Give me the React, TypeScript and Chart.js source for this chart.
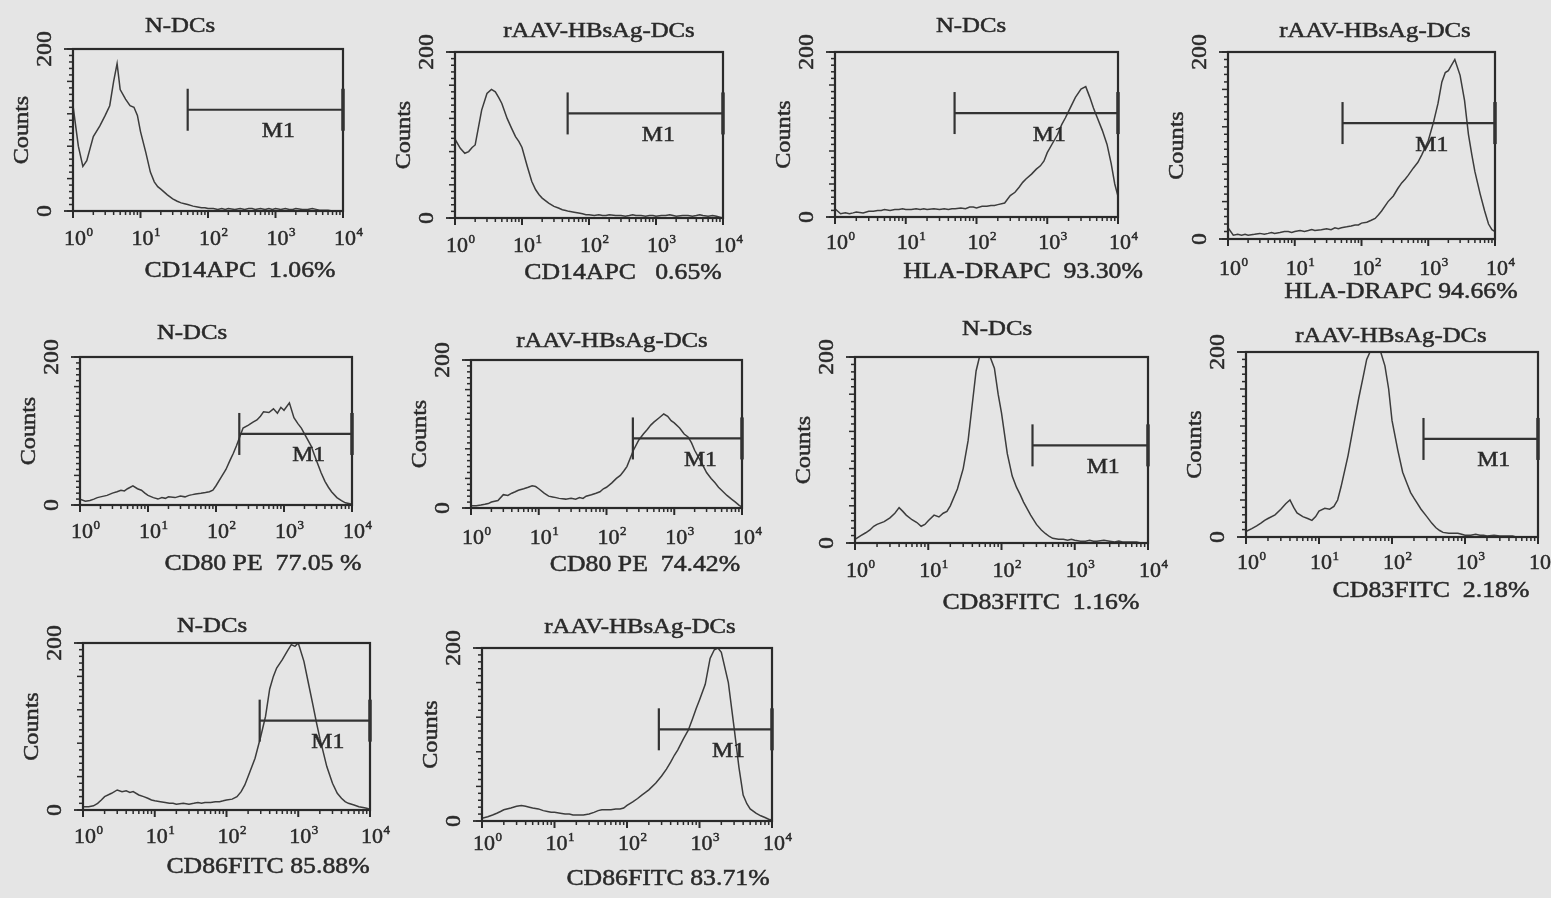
import React, { useEffect, useRef } from 'react';
import { Chart, registerables } from 'chart.js';

Chart.register(...registerables);

const W = 1551;
const H = 898;
const BG = '#e5e5e5';
const INK = '#2a2a2a';
const LINE = '#3c3c3c';
const FONT = '"Liberation Serif", "Times New Roman", serif';

// ---------- data ----------
const channels = [
  1, 1.2, 1.4, 1.6, 1.8, 2, 2.5, 3, 3.5, 4, 4.5, 5, 6, 7, 8, 9,
  10, 12, 14, 16, 18, 20, 25, 30, 35, 40, 45, 50, 60, 70, 80, 90,
  100, 120, 140, 160, 180, 200, 250, 300, 350, 400, 450, 500, 600, 700, 800, 900,
  1000, 1200, 1400, 1600, 1800, 2000, 2500, 3000, 3500, 4000, 4500, 5000, 6000, 7000, 8000, 9000,
  10000,
];

const cd14N = [
  130, 80, 55, 62, 78, 92, 105, 118, 130, 160, 182, 150, 138, 130, 128, 118,
  98, 72, 48, 36, 30, 27, 20, 15, 12, 10, 9, 8, 6, 5, 4, 4,
  3, 3, 2, 3, 2, 3, 2, 3, 2, 3, 3, 2, 3, 2, 3, 2,
  3, 2, 3, 2, 2, 3, 2, 2, 3, 2, 1, 1, 1, 0, 0, 0,
  0,
];
const cd14R = [
  95, 84, 78, 80, 85, 88, 130, 150, 155, 152, 145, 138, 120, 108, 98, 92,
  85, 62, 44, 34, 28, 24, 18, 14, 12, 10, 9, 8, 7, 6, 5, 4,
  4, 3, 4, 3, 3, 4, 3, 3, 2, 3, 4, 3, 3, 2, 3, 3,
  2, 3, 3, 4, 3, 2, 3, 3, 2, 3, 4, 3, 2, 3, 2, 1,
  0,
];
const hlaN = [
  10, 4, 5, 4, 5, 6, 5, 7, 7, 8, 8, 9, 8, 9, 9, 10,
  9, 9, 10, 9, 10, 9, 10, 9, 10, 9, 10, 10, 11, 10, 12, 12,
  11, 13, 13, 14, 14, 15, 17, 26, 30, 36, 42, 46, 52, 58, 62, 68,
  78, 90, 100, 112, 120, 128, 145, 155, 158, 145, 132, 122, 105, 88, 65, 40,
  25,
];
const hlaR = [
  12, 4, 5, 4, 5, 4, 5, 6, 5, 6, 7, 6, 7, 8, 8, 7,
  8, 9, 8, 9, 10, 9, 10, 11, 10, 12, 11, 12, 13, 14, 15, 15,
  17, 18, 20, 22, 26, 30, 40, 46, 54, 60, 64, 68, 76, 82, 90, 98,
  105, 125, 145, 168, 178, 180, 192, 175, 148, 112, 90, 72, 48, 30, 16, 10,
  8,
];
const cd80N = [
  8, 5, 6, 8, 10, 11, 13, 16, 18, 20, 19, 22, 26, 22, 20, 16,
  13, 10, 8, 10, 9, 11, 10, 12, 11, 13, 14, 15, 16, 17, 18, 20,
  26, 38, 48, 60, 70, 80, 104, 108, 112, 115, 120, 126, 125, 130, 124, 132,
  128, 138, 118, 110, 104, 96, 80, 60, 44, 32, 24, 18, 10, 6, 3, 2,
  1,
];
const cd80R = [
  3, 3, 4, 5, 6, 8, 10, 18, 17, 20, 22, 24, 26, 28, 30, 29,
  26, 20, 16, 15, 14, 13, 12, 13, 12, 14, 13, 16, 18, 20, 22, 26,
  28, 34, 40, 44, 50, 56, 78, 92, 100, 106, 112, 116, 122, 127, 124, 118,
  115, 108, 100, 96, 88, 78, 62, 48, 40, 34, 28, 24, 17, 12, 8, 4,
  1,
];
const cd83N = [
  4, 8, 11, 14, 18, 20, 23, 27, 32, 38, 34, 30, 25, 22, 18, 20,
  24, 30, 28, 32, 34, 40, 58, 80, 110, 150, 185, 200, 200, 200, 188, 160,
  140, 96, 72, 60, 52, 44, 30, 20, 14, 10, 7, 5, 4, 4, 3, 4,
  3, 2, 2, 3, 2, 2, 3, 2, 1, 2, 1, 1, 1, 1, 0, 0,
  0,
];
const cd83R = [
  6, 9, 12, 15, 18, 20, 24, 30, 36, 40, 32, 26, 22, 20, 18, 22,
  28, 31, 30, 33, 40, 54, 88, 122, 150, 172, 192, 200, 200, 200, 185, 160,
  126, 94, 70, 58, 48, 42, 30, 22, 15, 10, 7, 5, 4, 4, 4, 3,
  2, 2, 3, 2, 2, 1, 2, 1, 1, 1, 1, 0, 0, 0, 0, 0,
  0,
];
const cd86N = [
  4, 4, 5, 8, 12, 16, 20, 24, 22, 23, 21, 22, 18, 16, 14, 12,
  11, 10, 9, 8, 8, 7, 8, 7, 8, 9, 8, 9, 9, 10, 10, 11,
  12, 13, 16, 22, 30, 40, 62, 88, 112, 145, 160, 170, 180, 190, 198, 196,
  200, 178, 150, 126, 104, 86, 52, 32, 20, 14, 10, 8, 6, 4, 3, 2,
  1,
];
const cd86R = [
  3, 5, 7, 9, 11, 13, 15, 17, 18, 17, 16, 15, 14, 12, 11, 10,
  10, 9, 8, 8, 7, 7, 7, 8, 10, 12, 13, 13, 13, 14, 14, 15,
  18, 22, 26, 30, 33, 36, 44, 52, 60, 68, 76, 82, 95, 105, 118, 130,
  140, 158, 188, 198, 200, 195, 160, 108, 62, 30, 20, 14, 9, 6, 4, 2,
  1,
];

const seriesList = [cd14N, cd14R, hlaN, hlaR, cd80N, cd80R, cd83N, cd83R, cd86N, cd86R];

const titles = [
  'N-DCs', 'rAAV-HBsAg-DCs', 'N-DCs', 'rAAV-HBsAg-DCs', 'N-DCs',
  'rAAV-HBsAg-DCs', 'N-DCs', 'rAAV-HBsAg-DCs', 'N-DCs', 'rAAV-HBsAg-DCs',
];
const axisLabels = [
  'CD14APC  1.06%', 'CD14APC   0.65%', 'HLA-DRAPC  93.30%', 'HLA-DRAPC 94.66%', 'CD80 PE  77.05 %',
  'CD80 PE  74.42%', 'CD83FITC  1.16%', 'CD83FITC  2.18%', 'CD86FITC 85.88%', 'CD86FITC 83.71%',
];
const gateStart = [50, 48, 49, 52, 220, 245, 265, 270, 290, 275];
const gateLevel = [125, 126, 126, 124, 96, 94, 105, 106, 107, 106];
const gateEnd = 10000;
const gateName = 'M1';

const xMin = 1;
const xMax = 10000;
const yMin = 0;
const yMax = 200;
const decadeValues = [1, 10, 100, 1000, 10000];
const decadeBase = '10';
const decadeExponents = ['0', '1', '2', '3', '4'];
const yTickValues = [0, 200];
const yTickLabels = ['0', '200'];
const yAxisTitle = 'Counts';

// ---------- layout ----------
const PAD = { left: 75, right: 40, top: 50, bottom: 80 };
type Layout = { box: number[]; title: number[]; label: number[]; tickDy: number };
const layouts: Layout[] = [
  { box: [73, 49, 343, 211], title: [180, 26], label: [240, 271], tickDy: 28 },
  { box: [455, 52, 723, 218], title: [599, 31], label: [623, 273], tickDy: 28 },
  { box: [835, 52, 1118, 217], title: [971, 26], label: [1023, 272], tickDy: 26 },
  { box: [1228, 52, 1495, 239], title: [1375, 31], label: [1401, 292], tickDy: 30 },
  { box: [80, 357, 352, 505], title: [192, 333], label: [263, 564], tickDy: 27 },
  { box: [471, 360, 742, 508], title: [612, 341], label: [645, 565], tickDy: 30 },
  { box: [855, 357, 1148, 543], title: [997, 329], label: [1041, 603], tickDy: 28 },
  { box: [1246, 352, 1538, 537], title: [1391, 336], label: [1431, 591], tickDy: 26 },
  { box: [83, 643, 370, 810], title: [212, 626], label: [268, 867], tickDy: 27 },
  { box: [482, 648, 772, 821], title: [640, 627], label: [668, 879], tickDy: 23 },
];

function text(
  ctx: CanvasRenderingContext2D, s: string, x: number, y: number,
  size: number, sx: number, rot = 0, align: CanvasTextAlign = 'center',
) {
  ctx.save();
  ctx.translate(x, y);
  if (rot) ctx.rotate(rot);
  ctx.scale(sx, 1);
  ctx.font = `${size}px ${FONT}`;
  ctx.fillStyle = INK;
  ctx.strokeStyle = INK;
  ctx.lineWidth = 0.5;
  ctx.textAlign = align;
  ctx.textBaseline = 'middle';
  ctx.fillText(s, 0, 0);
  ctx.strokeText(s, 0, 0);
  ctx.restore();
}

function seg(ctx: CanvasRenderingContext2D, x1: number, y1: number, x2: number, y2: number) {
  ctx.beginPath();
  ctx.moveTo(x1, y1);
  ctx.lineTo(x2, y2);
  ctx.stroke();
}

function Panel({ i }: { i: number }) {
  const ref = useRef<HTMLCanvasElement>(null);
  const L = layouts[i];
  const [l, t, r, b] = L.box;
  const ox = l - PAD.left;
  const oy = t - PAD.top;
  const cw = r - l + PAD.left + PAD.right;
  const ch = b - t + PAD.top + PAD.bottom;

  useEffect(() => {
    const values = seriesList[i];
    const decor = {
      id: 'facsDecor',
      afterDraw(chart: any) {
        const ctx: CanvasRenderingContext2D = chart.ctx;
        const xs = chart.scales.x;
        const ys = chart.scales.y;
        const ca = chart.chartArea;
        ctx.save();
        ctx.strokeStyle = INK;
        ctx.lineCap = 'butt';
        // frame
        ctx.lineWidth = 2.2;
        ctx.strokeRect(ca.left, ca.top, ca.right - ca.left, ca.bottom - ca.top);
        // y ticks
        ctx.lineWidth = 1.5;
        for (let v = yMin; v <= yMax; v += 8) {
          const y = ys.getPixelForValue(v);
          const len = v % 40 === 0 ? 6 : 4;
          seg(ctx, ca.left - len, y, ca.left, y);
        }
        ctx.lineWidth = 1.8;
        yTickValues.forEach((v) => {
          const y = ys.getPixelForValue(v);
          seg(ctx, ca.left - 9, y, ca.left, y);
        });
        // x ticks
        ctx.lineWidth = 1.5;
        for (let d = 0; d < decadeValues.length - 1; d++) {
          for (let k = 2; k <= 9; k++) {
            const x = xs.getPixelForValue(k * decadeValues[d]);
            seg(ctx, x, ca.bottom, x, ca.bottom + 4);
          }
        }
        ctx.lineWidth = 2;
        decadeValues.forEach((v) => {
          const x = xs.getPixelForValue(v);
          seg(ctx, x, ca.bottom, x, ca.bottom + 7);
        });
        // x tick labels
        decadeValues.forEach((v, k) => {
          const x = xs.getPixelForValue(v) + 2;
          const y = ca.bottom + L.tickDy;
          text(ctx, decadeBase, x, y, 22, 1);
          ctx.font = `22px ${FONT}`;
          const w = ctx.measureText(decadeBase).width;
          text(ctx, decadeExponents[k], x + w / 2 + 0.5, y - 6, 13, 1, 0, 'left');
        });
        // y tick labels
        yTickValues.forEach((v, k) => {
          text(ctx, yTickLabels[k], ca.left - 28, ys.getPixelForValue(v), 22, 1.08, -Math.PI / 2);
        });
        // y axis title
        text(ctx, yAxisTitle, ca.left - 51, (ca.top + ca.bottom) / 2, 22, 1.1, -Math.PI / 2);
        // title & x label
        text(ctx, titles[i], L.title[0] - ox, L.title[1] - oy, 21, 1.18);
        text(ctx, axisLabels[i], L.label[0] - ox, L.label[1] - oy, 23, 1.12);
        // M1 gate
        const xa = xs.getPixelForValue(gateStart[i]);
        const xb = xs.getPixelForValue(gateEnd);
        const yg = ys.getPixelForValue(gateLevel[i]);
        ctx.strokeStyle = '#333';
        ctx.lineWidth = 2.2;
        seg(ctx, xa, yg, xb, yg);
        seg(ctx, xa, yg - 21, xa, yg + 21);
        ctx.lineWidth = 3.5;
        seg(ctx, xb, yg - 21, xb, yg + 21);
        text(ctx, gateName, (xa + xb) / 2 + 13, yg + 22, 21, 1.13);
        ctx.restore();
      },
    };

    const chart = new Chart(ref.current as HTMLCanvasElement, {
      type: 'line',
      data: {
        datasets: [
          {
            data: channels.map((x, k) => ({ x, y: values[k] })),
            borderColor: LINE,
            borderWidth: 1.5,
            pointRadius: 0,
            tension: 0,
            fill: false,
          },
        ],
      },
      options: {
        animation: false,
        responsive: false,
        maintainAspectRatio: false,
        events: [],
        layout: { padding: PAD },
        plugins: { legend: { display: false }, tooltip: { enabled: false } },
        scales: {
          x: { type: 'logarithmic', min: xMin, max: xMax, display: false },
          y: { type: 'linear', min: yMin, max: yMax, display: false },
        },
      },
      plugins: [decor],
    } as any);
    return () => chart.destroy();
  }, [i]);

  return (
    <canvas
      ref={ref}
      width={cw}
      height={ch}
      style={{ position: 'absolute', left: ox, top: oy, width: cw, height: ch }}
    />
  );
}

export default function App() {
  return (
    <div
      style={{
        position: 'absolute',
        left: 0,
        top: 0,
        width: W,
        height: H,
        overflow: 'hidden',
        background: BG,
      }}
    >
      {titles.map((_, i) => (
        <Panel key={i} i={i} />
      ))}
    </div>
  );
}
